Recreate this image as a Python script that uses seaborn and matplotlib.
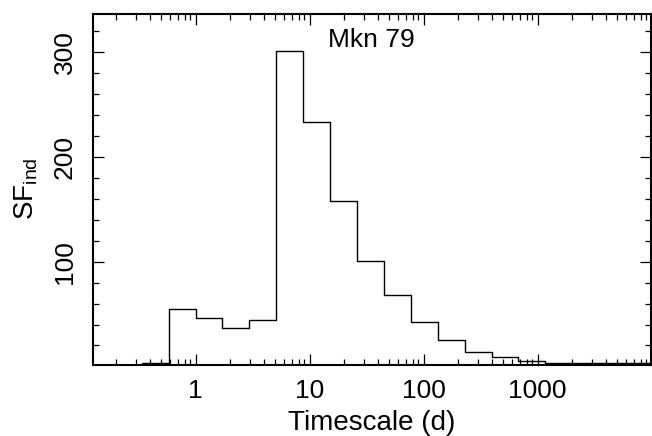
import numpy as np
import pandas as pd
import matplotlib
matplotlib.use("Agg")
import matplotlib.pyplot as plt
from matplotlib.ticker import LogLocator, FixedLocator, NullFormatter
import seaborn as sns

# Data (bin edges in days, SF_ind per bin)
bin_edges = [0.336, 0.58, 1.0, 1.72, 2.96, 5.1, 8.8, 15.1, 26.0, 44.8, 77.0,
             133.0, 229.0, 394.0, 678.0, 1170.0, 2010.0, 3460.0, 5960.0, 10250.0]
sf_values = [3.0, 55, 46, 37, 44, 301, 233, 158, 101, 68, 42,
             25, 14, 8.5, 5.2, 3.0, 2.8, 2.8, 2.8]
x_ticks = [1, 10, 100, 1000]
x_tick_labels = ["1", "10", "100", "1000"]
y_ticks = [100, 200, 300]
title_text = "Mkn 79"

sns.set_style("ticks")
plt.rcParams["font.family"] = ["Liberation Sans", "DejaVu Sans"]
plt.rcParams["mathtext.fontset"] = "custom"
plt.rcParams["mathtext.rm"] = "Liberation Sans"
plt.rcParams["mathtext.it"] = "Liberation Sans"
for key in ["text.color", "axes.labelcolor", "xtick.color", "ytick.color", "axes.edgecolor"]:
    plt.rcParams[key] = "black"

edges = np.array(bin_edges)
df = pd.DataFrame({"t": np.sqrt(edges[:-1] * edges[1:]),
                   "sf": np.array(sf_values, dtype=float)})

fig = plt.figure(figsize=(6.52, 4.36), dpi=100)
ax = fig.add_axes([0.142, 0.1635, 0.856, 0.8055])

sns.histplot(data=df, x="t", weights="sf", bins=list(np.log10(edges)), log_scale=True,
             element="step", fill=False, color="black", linewidth=1.0, ax=ax)

ax.set_xlim(0.125, 9800)
ax.set_ylim(1.6, 337)

ax.xaxis.set_major_locator(FixedLocator(x_ticks))
ax.set_xticklabels(x_tick_labels)
ax.xaxis.set_minor_locator(LogLocator(base=10, subs=np.arange(2, 10), numticks=20))
ax.xaxis.set_minor_formatter(NullFormatter())
ax.yaxis.set_major_locator(FixedLocator(y_ticks))
ax.yaxis.set_minor_locator(FixedLocator(np.arange(20, 340, 20)))

for sp in ax.spines.values():
    sp.set_visible(True)
    sp.set_linewidth(1.5)
    sp.set_color("black")

ax.tick_params(which="both", direction="in", top=True, right=True, color="black",
               labelcolor="black", width=0.9)
ax.tick_params(which="major", length=8, labelsize=19)
ax.tick_params(which="minor", length=4.2)
ax.tick_params(axis="x", which="major", pad=10.5)
ax.tick_params(axis="y", which="major", pad=11.5)
for lab in ax.get_yticklabels():
    lab.set_rotation(90)
    lab.set_va("center")

ax.set_xlabel("Timescale (d)", fontsize=20, labelpad=4.5, color="black")
ax.set_ylabel(r"SF$_{\rm ind}$", fontsize=20, labelpad=9, color="black")
ax.text(0.5, 0.925, title_text, transform=ax.transAxes, ha="center", va="center",
        fontsize=19, color="black")

fig.savefig("out.png", dpi=100)
